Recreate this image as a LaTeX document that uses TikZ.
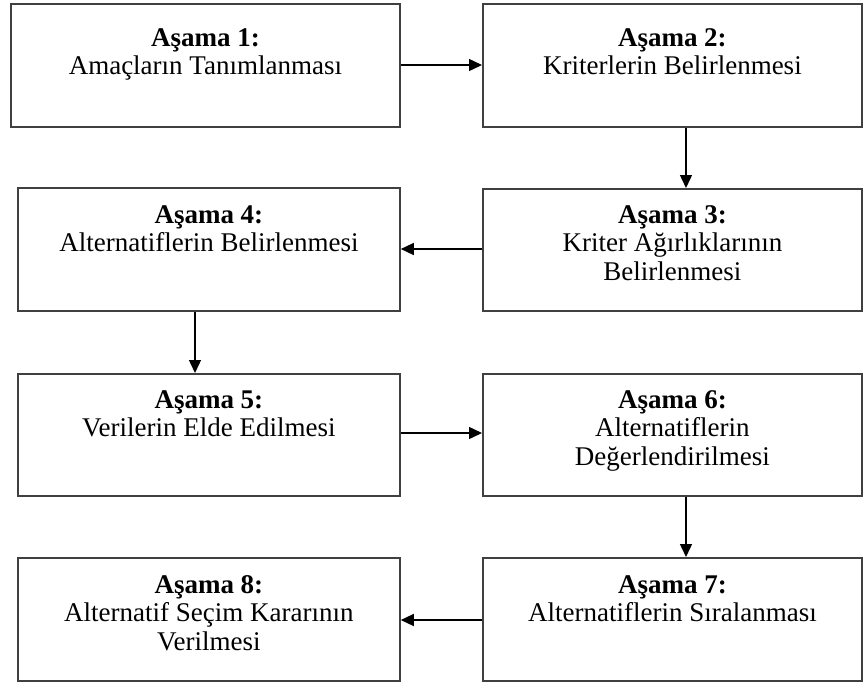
\documentclass[tikz,border=0pt]{standalone}
\usepackage{fontspec}
\setmainfont{Liberation Serif}
\usetikzlibrary{arrows.meta}
\begin{document}
\begin{tikzpicture}[x=1pt,y=-1pt,
  box/.style={draw=black!75,line width=1.8pt,rectangle,inner sep=0pt,anchor=north west},
  txt/.style={anchor=north,align=center,inner sep=0pt,font=\fontsize{27}{28.5}\selectfont,text=black},
  arr/.style={line width=1.4pt,-{Triangle[length=13pt,width=12pt]}}]
\useasboundingbox[fill=white] (0,0) rectangle (863,686);
% boxes
\node[box,minimum width=389pt,minimum height=123pt] (b1) at (10,3) {};
\node[box,minimum width=379pt,minimum height=123pt] (b2) at (482,3) {};
\node[box,minimum width=379pt,minimum height=122pt] (b3) at (482,188) {};
\node[box,minimum width=382pt,minimum height=123pt] (b4) at (17,187) {};
\node[box,minimum width=382pt,minimum height=122pt] (b5) at (17,373) {};
\node[box,minimum width=379pt,minimum height=122pt] (b6) at (482,373) {};
\node[box,minimum width=379pt,minimum height=123pt] (b7) at (482,557) {};
\node[box,minimum width=382pt,minimum height=123pt] (b8) at (17,557) {};
% texts
\node[txt] (t1) at ([yshift=-25pt]b1.north) {\textbf{Aşama 1:}\\Amaçların Tanımlanması};
\node[txt] (t2) at ([yshift=-25pt]b2.north) {\textbf{Aşama 2:}\\Kriterlerin Belirlenmesi};
\node[txt] (t3) at ([yshift=-17pt]b3.north) {\textbf{Aşama 3:}\\Kriter Ağırlıklarının\\Belirlenmesi};
\node[txt] (t4) at ([yshift=-18pt]b4.north) {\textbf{Aşama 4:}\\Alternatiflerin Belirlenmesi};
\node[txt] (t5) at ([yshift=-17pt]b5.north) {\textbf{Aşama 5:}\\Verilerin Elde Edilmesi};
\node[txt] (t6) at ([yshift=-17pt]b6.north) {\textbf{Aşama 6:}\\Alternatiflerin\\Değerlendirilmesi};
\node[txt] (t7) at ([yshift=-18pt]b7.north) {\textbf{Aşama 7:}\\Alternatiflerin Sıralanması};
\node[txt] (t8) at ([yshift=-18pt]b8.north) {\textbf{Aşama 8:}\\Alternatif Seçim Kararının\\Verilmesi};
% connectors
\draw[arr] (b1.east |- 0,65) -- (b2.west |- 0,65);
\draw[arr] (b2.south -| 686,0) -- (b3.north -| 686,0);
\draw[arr] (b3.west |- 0,249) -- (b4.east |- 0,249);
\draw[arr] (b4.south -| 195,0) -- (b5.north -| 195,0);
\draw[arr] (b5.east |- 0,433) -- (b6.west |- 0,433);
\draw[arr] (b6.south -| 686,0) -- (b7.north -| 686,0);
\draw[arr] (b7.west |- 0,620) -- (b8.east |- 0,620);
\end{tikzpicture}
\end{document}
